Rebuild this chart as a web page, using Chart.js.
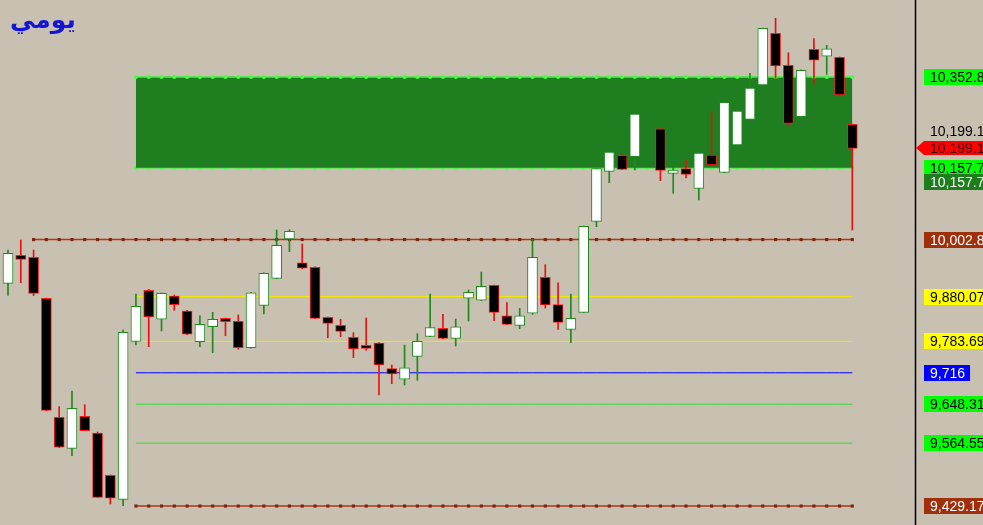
<!DOCTYPE html>
<html lang="ar">
<head>
<meta charset="utf-8">
<script src="https://cdn.jsdelivr.net/npm/chart.js@4.4.1/dist/chart.umd.min.js"></script>
<style>
    html, body { margin: 0; padding: 0; background: #c8c0b0; }
    #wrap { position: relative; width: 983px; height: 525px; overflow: hidden; }
    #title { position: absolute; left: 10px; top: 5px; font: bold 25px "DejaVu Sans", sans-serif; color: #1414d8; direction: rtl; }
</style>
</head>
<body>
<div id="wrap">
    <canvas id="dailyChart"></canvas>
    <div id="title">يومي</div>
</div>
<script>
// OHLC يومي (index 50 = no trade)
const opens  = [9908.6, 9968.9, 9964.6, 9876.4, 9620.2, 9553.4, 9622.3, 9586.4, 9495.3, 9443.6,
                9783.4, 9893.6, 9831.2, 9881.3, 9849.0, 9782.9, 9815.2, 9833.3, 9826.8, 9770.0,
                9861.3, 9919.4, 10004.0, 9953.0, 9943.1, 9835.5, 9818.2, 9792.4, 9775.2, 9780.1,
                9724.8, 9702.0, 9751.5, 9794.1, 9811.8, 9790.2, 9876.4, 9872.1, 9904.4, 9838.9,
                9818.2, 9844.1, 9921.6, 9862.6, 9809.6, 9846.2, 10042.1, 10149.8, 10184.2, 10181.2,
                null, 10241.5, 10145.5, 10155.4, 10113.2, 10184.9, 10147.6, 10206.4, 10261.7, 10335.6,
                10446.9, 10378.0, 10267.3, 10412.4, 10397.4, 10395.2, 10251.0];
const highs  = [9980.3, 10001.9, 9980.3, 9877, 9643.0, 9676.8, 9647.3, 9588.5, 9496, 9808.1,
                9885.6, 9895.7, 9888, 9883.5, 9850.5, 9838.9, 9846.2, 9834, 9840.4, 9889,
                9931, 10023.4, 10024.1, 9993.3, 9944, 9836, 9831.2, 9802.3, 9834.0, 9781,
                9732.8, 9775.8, 9800.2, 9885.6, 9841.9, 9831.8, 9894.2, 9933.0, 9905, 9866.9,
                9854.8, 10004.0, 9948.7, 9909.9, 9885.6, 10032, 10156, 10192, 10188.5, 10274,
                null, 10242, 10158.4, 10174.1, 10190, 10277.5, 10299, 10280, 10360.8, 10458,
                10479.2, 10405.1, 10368, 10435.3, 10421.0, 10396, 10251.5];
const lows   = [9882.8, 9909.9, 9882.0, 9634, 9555, 9537.5, 9591, 9447.5, 9433.5, 9429.9,
                9775.8, 9772.2, 9806.0, 9850.5, 9798, 9772.2, 9759.2, 9795.8, 9766.6, 9769,
                9842.6, 9918.5, 9976.7, 9940, 9832.5, 9791.5, 9793.7, 9748.5, 9764.4, 9668.2,
                9692.5, 9689.7, 9699.8, 9793.7, 9789.5, 9773.7, 9827.5, 9871.5, 9828.1, 9819.8,
                9810.9, 9841.9, 9855.5, 9809.6, 9780.8, 9845.5, 10030.5, 10125.2, 10153.5, 10152.6,
                null, 10129.5, 10102.4, 10135.4, 10088.0, 10162.5, 10147, 10206, 10261, 10335,
                10350.0, 10247.3, 10267, 10337.7, 10358.6, 10313.5, 10023.4];
const closes = [9973.2, 9960.3, 9887.1, 9635.2, 9555.6, 9639.5, 9591.3, 9447.9, 9445.8, 9803.2,
                9859.1, 9836.1, 9887.1, 9862.6, 9798.9, 9820.4, 9831.2, 9826.0, 9770.0, 9888.4,
                9930.2, 9990.5, 10020.6, 9941.0, 9833.3, 9822.5, 9805.3, 9767.2, 9768.7, 9732.8,
                9713.4, 9726.9, 9783.8, 9813.1, 9790.2, 9815.2, 9889.3, 9902.2, 9846.2, 9820.4,
                9838.9, 9964.6, 9861.9, 9824.7, 9833.3, 10031.4, 10155.4, 10191.3, 10154.1, 10273.1,
                null, 10151.9, 10152.6, 10143.3, 10189.2, 10163.3, 10298.3, 10279.6, 10329.1, 10457.6,
                10376.5, 10253.1, 10367.2, 10388.8, 10413.7, 10314.0, 10199.1];

// مستويات
const zoneLevels   = [10352.8, 10157.7];
const brownLevels  = [10002.8, 9429.17];
const brownStart   = [2, 10];
const yellowLevels = [9880.07, 9783.69];
const blueLevels   = [9716];
const greenLevels  = [9648.31, 9564.55];
const lineStart = 10, lineEnd = 66;

// لافتات المحور
const tagValues = [10352.8, 10199.1, 10199.1, 10157.7, 10157.7, 10002.8, 9880.07, 9783.69, 9716, 9648.31, 9564.55, 9429.17];
const tagTexts  = ['10,352.8', '10,199.1', '10,199.1', '10,157.7', '10,157.7', '10,002.8', '9,880.07', '9,783.69', '9,716', '9,648.31', '9,564.55', '9,429.17'];
const tagShift  = [0, -17, 0, 0, 14, 0, 0, 0, 0, 0, 0, 0];
const tagFill   = ['#00ff00', null, '#ff0000', '#00ff00', '#1e7e1e', '#a0300c', '#ffff00', '#ffff00', '#0000ff', '#00ff00', '#00ff00', '#a0300c'];
const tagInk    = ['#000', '#000', '#3a0000', '#000', '#fff', '#fff', '#000', '#000', '#fff', '#000', '#000', '#fff'];
const tagArrow  = [false, false, true, false, false, false, false, false, false, false, false, false];

const isBull = i => closes[i] >= opens[i];

const bodyData = [], wickData = [];
opens.forEach((o, i) => {
    if (o === null) return;
    bodyData.push({ x: i, y: [o, closes[i]] });
    wickData.push({ x: i, y: [lows[i], highs[i]] });
});

function levelData(v, from) {
    const pts = [];
    for (let i = from; i <= lineEnd; i++) pts.push({ x: i, y: v });
    return pts;
}

function levelLine(v, from, color, extra) {
    return Object.assign({
        type: 'line',
        data: levelData(v, from),
        borderColor: color,
        borderWidth: 1,
        pointRadius: 0,
        fill: false,
        order: 5
    }, extra || {});
}

const datasets = [
    {
        label: 'body',
        data: bodyData,
        backgroundColor: c => isBull(c.raw.x) ? '#ffffff' : '#000000',
        borderColor: c => isBull(c.raw.x) ? '#1e8a1e' : '#ff1a1a',
        borderWidth: 1,
        borderSkipped: false,
        barThickness: 10,
        minBarLength: 2,
        grouped: false,
        order: 0
    },
    {
        label: 'wick',
        data: wickData,
        backgroundColor: c => isBull(c.raw.x) ? '#1e8a1e' : '#e81010',
        borderWidth: 0,
        barThickness: 1,
        grouped: false,
        order: 1
    }
];

yellowLevels.forEach(v => datasets.push(levelLine(v, lineStart, '#f2ea00')));
blueLevels.forEach(v => datasets.push(levelLine(v, lineStart, '#0000ff')));
greenLevels.forEach(v => datasets.push(levelLine(v, lineStart, '#3ad83a')));
brownLevels.forEach((v, k) => datasets.push(levelLine(v, brownStart[k], '#b0341a', {
    borderWidth: 1.5,
    pointStyle: 'rect',
    pointRadius: 2.2,
    pointBackgroundColor: '#7a2410',
    pointBorderWidth: 0,
    order: 6
})));

// المنطقة الخضراء
datasets.push(levelLine(zoneLevels[0], lineStart, '#3cf03c', {
    borderWidth: 1.5,
    pointRadius: 2,
    pointBackgroundColor: '#44ff44',
    pointBorderWidth: 0,
    fill: '+1',
    backgroundColor: '#1f7f20',
    order: 8
}));
datasets.push(levelLine(zoneLevels[1], lineStart, '#3cf03c', {
    borderWidth: 1.5,
    pointRadius: 2,
    pointBackgroundColor: '#44ff44',
    pointBorderWidth: 0,
    order: 9
}));

const backdrop = {
    id: 'backdrop',
    beforeDraw(chart) {
        const ctx = chart.ctx;
        ctx.save();
        ctx.fillStyle = '#c8c0b0';
        ctx.fillRect(0, 0, chart.width, chart.height);
        ctx.restore();
    }
};

const priceTags = {
    id: 'priceTags',
    afterDraw(chart) {
        const ctx = chart.ctx;
        const yScale = chart.scales.y;
        const right = chart.chartArea.right;
        ctx.save();
        // خط المحور
        ctx.strokeStyle = '#000';
        ctx.lineWidth = 1.5;
        ctx.beginPath();
        ctx.moveTo(right + 0.5, 0);
        ctx.lineTo(right + 0.5, chart.height);
        ctx.stroke();

        ctx.font = '14px "Liberation Sans", Arial, sans-serif';
        ctx.textBaseline = 'middle';
        tagValues.forEach((v, k) => {
            const y = Math.round(yScale.getPixelForValue(v)) + tagShift[k];
            const x = right + 9;
            const w = ctx.measureText(tagTexts[k]).width + 11;
            if (tagFill[k]) {
                ctx.fillStyle = tagFill[k];
                ctx.beginPath();
                if (tagArrow[k]) {
                    ctx.moveTo(right + 1, y);
                    ctx.lineTo(x, y - 7);
                    ctx.lineTo(x + w, y - 7);
                    ctx.lineTo(x + w, y + 7);
                    ctx.lineTo(x, y + 7);
                    ctx.closePath();
                } else {
                    ctx.rect(x, y - 8, w, 16);
                }
                ctx.fill();
            }
            ctx.fillStyle = tagInk[k];
            ctx.fillText(tagTexts[k], x + 6, y + 1);
        });
        ctx.restore();
    }
};

new Chart(document.getElementById('dailyChart'), {
    type: 'bar',
    data: { datasets: datasets },
    options: {
        responsive: true,
        maintainAspectRatio: false,
        animation: false,
        layout: { autoPadding: false, padding: { left: 0, right: 68, top: 0, bottom: 0 } },
        plugins: {
            legend: { display: false },
            tooltip: { enabled: false }
        },
        scales: {
            x: { type: 'linear', min: -0.625, max: 70.9, offset: false, display: false },
            y: { type: 'linear', min: 9388.3, max: 10518.6, beginAtZero: false, display: false }
        }
    },
    plugins: [backdrop, priceTags]
});
</script>
</body>
</html>
